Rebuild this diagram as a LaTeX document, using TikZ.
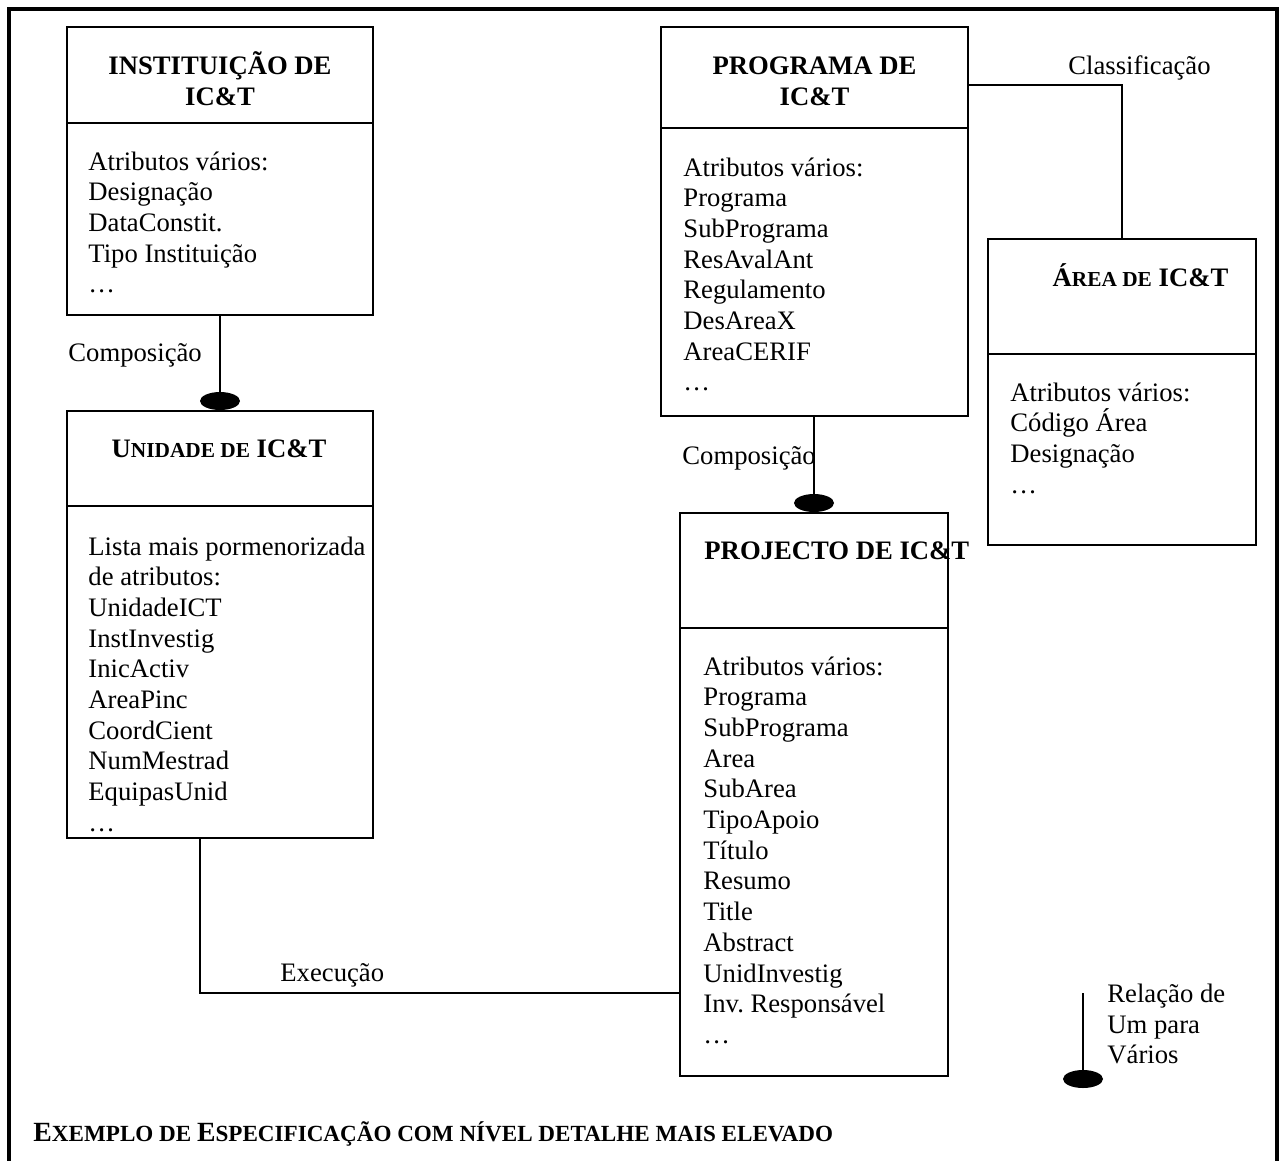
\documentclass[tikz,border=0pt]{standalone}
\usepackage{fontspec}
\setmainfont{Liberation Serif}
\usetikzlibrary{shapes.geometric,calc}
\frenchspacing
\def\upx{0.45pt}
% synthetic small capitals (the serif face has none)
\newcommand\fakesc[1]{{\fontsize{9.6}{11}\selectfont #1}}
\newcommand\fakescwide[1]{{\fontsize{10.4}{12}\selectfont #1}}
\begin{document}
\begin{tikzpicture}[x=0.45pt,y=-0.45pt,
  txt/.style={font=\fontsize{12}{13.8}\selectfont, inner sep=0pt, anchor=base west},
  ttl/.style={font=\fontsize{12}{13.8}\selectfont\bfseries, inner sep=0pt, anchor=base},
  entity/.style 2 args={draw, line width=0.9pt, minimum width=#1*\upx, minimum height=#2*\upx, inner sep=0pt},
  rel/.style={line width=0.9pt},
  many/.style={ellipse, fill=black, minimum width=40*\upx, minimum height=18*\upx, inner sep=0pt},
  frame/.style={line width=1.8pt}]
\useasboundingbox (0,0) rectangle (1283,1160);

% outer frame (open at the bottom)
\draw[frame] (8.5,1165) -- (8.5,8.5) -- (1276.5,8.5) -- (1276.5,1165);

% entities
\node[entity={306}{288}] (inst) at (220,171) {};
\node[entity={306}{427}] (unid) at (220,624.5) {};
\node[entity={307}{389}] (prog) at (814.5,221.5) {};
\node[entity={268}{306}] (area) at (1122,392) {};
\node[entity={268}{563}] (proj) at (814,794.5) {};

% header / attribute dividers
\draw[rel] (inst.west |- 0,123) -- (inst.east |- 0,123);
\draw[rel] (unid.west |- 0,506) -- (unid.east |- 0,506);
\draw[rel] (prog.west |- 0,128) -- (prog.east |- 0,128);
\draw[rel] (area.west |- 0,354) -- (area.east |- 0,354);
\draw[rel] (proj.west |- 0,628) -- (proj.east |- 0,628);

% headers
\node[ttl] (inst-t1) at (220,74) {INSTITUIÇÃO DE};
\node[ttl] (inst-t2) at (220,105) {IC\&T};
\node[ttl] (unid-t) at (219,457) {U\fakesc{NIDADE DE} IC\&T};
\node[ttl] (prog-t1) at (814.5,74) {PROGRAMA DE};
\node[ttl] (prog-t2) at (814.5,105) {IC\&T};
\node[ttl] (area-t) at (1140.5,286) {Á\fakesc{REA DE} IC\&T};
\node[txt, font=\fontsize{12}{13.8}\selectfont\bfseries] (proj-t) at (704,559) {PROJECTO DE IC\&T};

% attribute lists
\foreach \t [count=\i] in {Atributos vários:, Designação, DataConstit., Tipo Instituição, …}
  \node[txt] (inst-a\i) at (88,{170+(\i-1)*30.7}) {\t};
\foreach \t [count=\i] in {Lista mais pormenorizada, de atributos:, UnidadeICT, InstInvestig, InicActiv, AreaPinc, CoordCient, NumMestrad, EquipasUnid, …}
  \node[txt] (unid-a\i) at (88,{555+(\i-1)*30.7}) {\t};
\foreach \t [count=\i] in {Atributos vários:, Programa, SubPrograma, ResAvalAnt, Regulamento, DesAreaX, AreaCERIF, …}
  \node[txt] (prog-a\i) at (683,{176+(\i-1)*30.7}) {\t};
\foreach \t [count=\i] in {Atributos vários:, Código Área, Designação, …}
  \node[txt] (area-a\i) at (1010,{401+(\i-1)*30.7}) {\t};
\foreach \t [count=\i] in {Atributos vários:, Programa, SubPrograma, Area, SubArea, TipoApoio, Título, Resumo, Title, Abstract, UnidInvestig, Inv. Responsável, …}
  \node[txt] (proj-a\i) at (703,{675+(\i-1)*30.7}) {\t};

% one-to-many relations
\node[many] (unid-end) at ($(unid.north)+(0,-9)$) {};
\draw[rel] (inst.south) -- (unid-end.center);
\node[txt] (comp1) at (68,361) {Composição};

\node[many] (proj-end) at ($(proj.north)+(0,-9)$) {};
\draw[rel] (prog.south -| proj.north) -- (proj-end.center);
\node[txt] (comp2) at (682,464) {Composição};

% classification link
\draw[rel] (prog.east |- 0,85) -| (area.north);
\node[txt] (classif) at (1068,74) {Classificação};

% execution link
\draw[rel] (unid.south -| 200,0) |- (proj.west |- 0,993);
\node[txt] (exec) at (280,981) {Execução};

% legend
\coordinate (leg-top) at (1083,993);
\node[many] (leg-end) at (1083,1079) {};
\draw[rel] (leg-top) -- (leg-end.center);
\node[txt] (leg1) at (1107,1002) {Relação de};
\node[txt] (leg2) at (1107,1033) {Um para};
\node[txt] (leg3) at (1107,1063) {Vários};

% caption
\node[txt, font=\fontsize{12.5}{14}\selectfont\bfseries] (caption) at (33,1141)
  {E\fakescwide{XEMPLO DE }E\fakescwide{SPECIFICAÇÃO COM NÍVEL DETALHE MAIS ELEVADO}};
\end{tikzpicture}
\end{document}
